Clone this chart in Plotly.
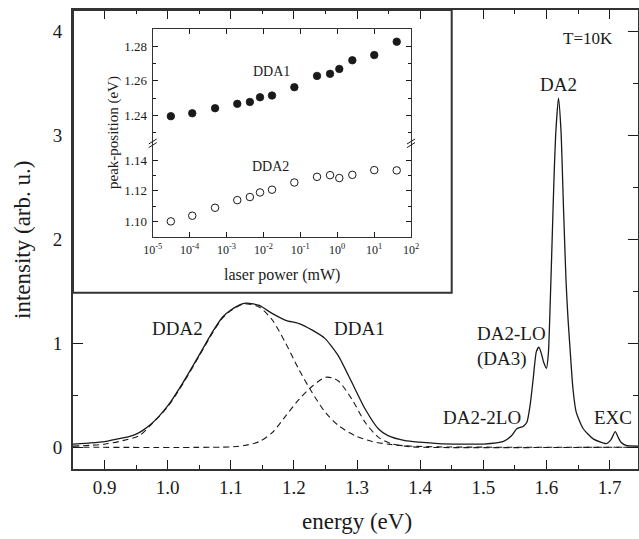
import plotly.graph_objects as go

# ---------------- data ----------------
energy_total = [0.850, 0.875, 0.900, 0.929, 0.940, 0.950, 0.960, 0.971, 0.985, 1.000,
                1.024, 1.050, 1.071, 1.087, 1.099, 1.118, 1.126, 1.145, 1.166, 1.187,
                1.208, 1.229, 1.249, 1.271, 1.292, 1.313, 1.334, 1.349, 1.376, 1.399,
                1.429, 1.466, 1.500, 1.532, 1.545, 1.553, 1.563, 1.569, 1.574, 1.579,
                1.584, 1.588, 1.592, 1.596, 1.600, 1.603, 1.606, 1.609, 1.612, 1.615,
                1.619, 1.623, 1.627, 1.631, 1.634, 1.637, 1.642, 1.647, 1.658, 1.674,
                1.695, 1.702, 1.709, 1.714, 1.718, 1.726, 1.745]
intensity_total = [0.029, 0.040, 0.054, 0.089, 0.105, 0.125, 0.160, 0.208, 0.290, 0.397,
                   0.620, 0.889, 1.110, 1.254, 1.317, 1.381, 1.387, 1.365, 1.286, 1.222,
                   1.190, 1.127, 1.048, 0.873, 0.620, 0.365, 0.175, 0.111, 0.063, 0.048,
                   0.035, 0.030, 0.030, 0.056, 0.113, 0.178, 0.200, 0.240, 0.400, 0.660,
                   0.920, 0.963, 0.900, 0.810, 0.760, 0.900, 1.400, 2.000, 2.600, 3.050,
                   3.360, 3.050, 2.300, 1.600, 1.250, 0.980, 0.560, 0.340, 0.180, 0.080,
                   0.034, 0.070, 0.150, 0.090, 0.048, 0.017, 0.010]

energy_dda2 = [0.850, 0.900, 0.929, 0.955, 0.971, 1.000, 1.024, 1.050, 1.071, 1.087,
               1.099, 1.118, 1.126, 1.145, 1.166, 1.187, 1.208, 1.229, 1.250, 1.271,
               1.297, 1.324, 1.350, 1.376, 1.429, 1.745]
intensity_dda2 = [0.010, 0.029, 0.063, 0.111, 0.200, 0.390, 0.610, 0.880, 1.100, 1.245,
                  1.310, 1.375, 1.380, 1.349, 1.222, 1.000, 0.746, 0.524, 0.333, 0.206,
                  0.111, 0.054, 0.029, 0.013, 0.003, 0.000]

energy_dda1 = [0.850, 1.100, 1.121, 1.145, 1.166, 1.187, 1.208, 1.229, 1.250, 1.261,
               1.271, 1.292, 1.313, 1.334, 1.355, 1.376, 1.397, 1.745]
intensity_dda1 = [0.000, 0.003, 0.016, 0.054, 0.143, 0.302, 0.460, 0.587, 0.673, 0.667,
                  0.635, 0.460, 0.238, 0.095, 0.032, 0.010, 0.000, 0.000]

laser_power = [3.1e-5, 1.18e-4, 4.9e-4, 1.96e-3, 4.3e-3, 8.1e-3, 1.71e-2, 6.9e-2,
               0.284, 0.64, 1.14, 2.57, 10.1, 41.0]
peak_dda1 = [1.2396, 1.2413, 1.2442, 1.2467, 1.2478, 1.2505, 1.2515, 1.2563,
             1.2628, 1.2640, 1.2668, 1.2718, 1.2748, 1.2825]
peak_dda2 = [1.1000, 1.1037, 1.1089, 1.1139, 1.1159, 1.1189, 1.1207, 1.1254,
             1.1291, 1.1302, 1.1283, 1.1304, 1.1335, 1.1333]

x_ticks = [0.9, 1.0, 1.1, 1.2, 1.3, 1.4, 1.5, 1.6, 1.7]
x_ticktext = ["0.9", "1.0", "1.1", "1.2", "1.3", "1.4", "1.5", "1.6", "1.7"]
y_ticks = [0, 1, 2, 3, 4]
inset_x_ticks = [1e-5, 1e-4, 1e-3, 1e-2, 1e-1, 1e0, 1e1, 1e2]
inset_x_ticktext = ["10<sup>-5</sup>", "10<sup>-4</sup>", "10<sup>-3</sup>", "10<sup>-2</sup>",
                    "10<sup>-1</sup>", "10<sup>0</sup>", "10<sup>1</sup>", "10<sup>2</sup>"]
inset_upper_ticks = [1.24, 1.26, 1.28]
inset_lower_ticks = [1.10, 1.12, 1.14]

# ---------------- layout helpers ----------------
W, H = 639, 539
L, R, T, B = 73, 1, 10, 70
PW, PH = W - L - R, H - T - B


def px(x):
    return (x - L) / PW


def py(y):
    return (H - B - y) / PH


FONT = "Liberation Serif, Times New Roman, serif"
INK = "#1a1a1a"

fig = go.Figure()

# main spectrum
fig.add_trace(go.Scatter(x=energy_dda2, y=intensity_dda2, mode="lines",
                         line=dict(color=INK, width=1.1, dash="6px,4px", shape="spline", smoothing=0.8),
                         xaxis="x", yaxis="y", showlegend=False, hoverinfo="skip"))
fig.add_trace(go.Scatter(x=energy_dda1, y=intensity_dda1, mode="lines",
                         line=dict(color=INK, width=1.1, dash="6px,4px", shape="spline", smoothing=0.8),
                         xaxis="x", yaxis="y", showlegend=False, hoverinfo="skip"))
fig.add_trace(go.Scatter(x=energy_total, y=intensity_total, mode="lines",
                         line=dict(color=INK, width=1.3, shape="spline", smoothing=0.6),
                         xaxis="x", yaxis="y", showlegend=False, hoverinfo="skip"))
# empty traces so that the overlay axes are attached
fig.add_trace(go.Scatter(x=[], y=[], xaxis="x", yaxis="y4", showlegend=False))
fig.add_trace(go.Scatter(x=[], y=[], xaxis="x", yaxis="y5", showlegend=False))
fig.add_trace(go.Scatter(x=[], y=[], xaxis="x3", yaxis="y2", showlegend=False))

# inset
fig.add_trace(go.Scatter(x=laser_power, y=peak_dda1, mode="markers",
                         marker=dict(symbol="circle", size=7.5, color=INK,
                                     line=dict(color=INK, width=0.8)),
                         xaxis="x2", yaxis="y2", showlegend=False))
fig.add_trace(go.Scatter(x=laser_power, y=peak_dda2, mode="markers",
                         marker=dict(symbol="circle-open", size=7.5, color=INK,
                                     line=dict(color=INK, width=1)),
                         xaxis="x2", yaxis="y3", showlegend=False))

tickfont = dict(family=FONT, size=19, color=INK)
ifont = dict(family=FONT, size=13, color=INK)

inset_x_dom = [px(152.7), px(411)]
y_break = py(143.3)
inset_top = py(29)
inset_bot = py(236.7)

common = dict(showgrid=False, zeroline=False, automargin=False)

fig.update_layout(
    template="none",
    width=W, height=H,
    margin=dict(l=L, r=R, t=T, b=B, autoexpand=False),
    paper_bgcolor="white", plot_bgcolor="white",
    font=dict(family=FONT, color=INK),
    hovermode=False,
    xaxis=dict(domain=[0, 1], range=[0.85, 1.745], tickvals=x_ticks, ticktext=x_ticktext,
               ticks="inside", ticklen=9, tickwidth=1.3, tickcolor=INK,
               minor=dict(ticks="inside", dtick=0.05, ticklen=4, tickwidth=1.3, tickcolor=INK),
               showline=True, linewidth=2, linecolor="#333", mirror="ticks",
               tickfont=tickfont, ticklabelstandoff=0, **common),
    yaxis=dict(domain=[0, 1], range=[-0.21, 4.21], tickvals=y_ticks, ticks="",
               showline=True, linewidth=2, linecolor="#333", mirror=True,
               tickfont=tickfont, ticklabelstandoff=5, **common),
    yaxis4=dict(overlaying="y", anchor="x", side="left", range=[-0.21, 4.21],
                tickvals=[0, 1], ticks="inside", ticklen=10, tickwidth=1.3, tickcolor=INK,
                minor=dict(tickvals=[0.5], ticks="inside", ticklen=5, tickwidth=1.3, tickcolor=INK),
                showticklabels=False, showline=False, **common),
    yaxis5=dict(overlaying="y", anchor="x", side="right", range=[-0.21, 4.21],
                tickvals=y_ticks, ticks="inside", ticklen=10, tickwidth=1.3, tickcolor=INK,
                minor=dict(dtick=0.5, ticks="inside", ticklen=5, tickwidth=1.3, tickcolor=INK),
                showticklabels=False, showline=False, **common),
    xaxis2=dict(domain=inset_x_dom, anchor="y3", type="log", range=[-5, 2],
                tickvals=inset_x_ticks, ticktext=inset_x_ticktext,
                ticks="inside", ticklen=5, tickwidth=1, tickcolor=INK,
                showline=True, linewidth=1.3, linecolor="#333",
                tickfont=dict(family=FONT, size=12, color=INK), ticklabelstandoff=2, **common),
    xaxis3=dict(overlaying="x2", anchor="y2", side="top", type="log", range=[-5, 2],
                tickvals=inset_x_ticks, ticks="inside", ticklen=5, tickwidth=1, tickcolor=INK,
                showticklabels=False, showline=True, linewidth=1.3, linecolor="#333", **common),
    yaxis2=dict(domain=[y_break, inset_top], anchor="x2", range=[1.224, 1.2898],
                tickvals=inset_upper_ticks, ticks="inside", ticklen=5, tickwidth=1, tickcolor=INK,
                minor=dict(tickvals=[1.23, 1.25, 1.27], ticks="inside", ticklen=3, tickwidth=1, tickcolor=INK),
                showline=True, linewidth=1.3, linecolor="#333", mirror="ticks",
                tickformat=".2f", tickfont=ifont, ticklabelstandoff=2, **common),
    yaxis3=dict(domain=[inset_bot, y_break], anchor="x2", range=[1.090, 1.151],
                tickvals=inset_lower_ticks, ticks="inside", ticklen=5, tickwidth=1, tickcolor=INK,
                minor=dict(tickvals=[1.11, 1.13], ticks="inside", ticklen=3, tickwidth=1, tickcolor=INK),
                showline=True, linewidth=1.3, linecolor="#333", mirror="ticks",
                tickformat=".2f", tickfont=ifont, ticklabelstandoff=2, **common),
)

# inset outer frame
shapes = [dict(type="rect", xref="paper", yref="paper", x0=0, x1=px(451.7), y0=py(292.7), y1=1,
               line=dict(color="#333", width=2), fillcolor="rgba(0,0,0,0)", layer="above")]
# axis break marks
for xb in (152.7, 411):
    for dy in (-1.8, 1.8):
        shapes.append(dict(type="line", xref="paper", yref="paper",
                           x0=px(xb - 4), y0=py(143.3 + dy + 2.5), x1=px(xb + 4), y1=py(143.3 + dy - 2.5),
                           line=dict(color=INK, width=1), layer="above"))
fig.update_layout(shapes=shapes)


def ann(text, x, y, size, angle=0, xanchor="center"):
    fig.add_annotation(text=text, x=px(x), y=py(y), xref="paper", yref="paper",
                       showarrow=False, textangle=angle, xanchor=xanchor, yanchor="middle",
                       font=dict(family=FONT, size=size, color=INK))


ann("energy (eV)", 356.7, 521.7, 23)
ann("intensity (arb. u.)", 22, 240, 23, angle=-90)
ann("T=10K", 588, 38, 17)
ann("DA2", 558, 85, 19)
ann("DA2-LO", 475, 333.3, 19, xanchor="left")
ann("(DA3)", 475, 359, 19, xanchor="left")
ann("DA2-2LO", 481.7, 417.7, 19)
ann("EXC", 613, 417.7, 19)
ann("DDA2", 177, 328.3, 19)
ann("DDA1", 359.7, 328.3, 19)
ann("DDA1", 271.7, 71.7, 14)
ann("DDA2", 270.8, 166.7, 14)
ann("laser power (mW)", 281.7, 275, 16)
ann("peak-position (eV)", 113, 133, 15, angle=-90)

fig.write_html("out.html", config={"displayModeBar": False},
               post_script="document.body.style.margin='0';document.body.style.overflow='hidden';")
